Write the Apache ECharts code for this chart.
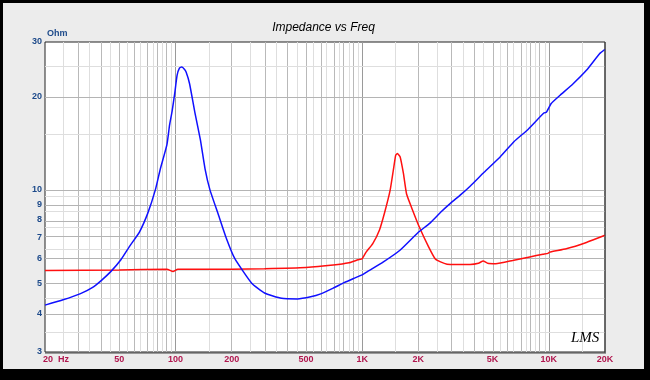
<!DOCTYPE html>
<html>
<head>
<meta charset="utf-8">
<script src="https://cdn.jsdelivr.net/npm/echarts@6/dist/echarts.min.js"></script>
<style>
html,body{margin:0;padding:0;background:#000;width:650px;height:380px;overflow:hidden;}
#c{position:absolute;left:3px;top:3px;width:641px;height:366px;}
</style>
</head>
<body>
<div id="c"></div>
<script>
// ---- data ----
var freqBlue = [20, 25, 31, 36, 40, 45, 51, 57, 64, 71, 78, 83, 90, 93, 96, 99, 102, 105, 108, 111, 114, 119, 127, 136, 144, 153, 170, 187, 208, 256, 300, 370, 450, 530, 600, 700, 800, 900, 1000, 1050, 1300, 1600, 2000, 2300, 2650, 3000, 3340, 3800, 4500, 5500, 6500, 7760, 9400, 9700, 10300, 11500, 13500, 15900, 18700, 20000];
var impBlue  = [4.25, 4.42, 4.63, 4.85, 5.1, 5.45, 5.95, 6.6, 7.3, 8.4, 10.0, 11.7, 14.0, 16.2, 18.0, 20.4, 23.4, 24.7, 24.9, 24.6, 24.0, 22.0, 17.8, 14.5, 11.7, 10.0, 8.3, 7.0, 6.0, 5.0, 4.65, 4.47, 4.45, 4.52, 4.62, 4.82, 5.02, 5.18, 5.32, 5.42, 5.86, 6.4, 7.3, 7.8, 8.5, 9.1, 9.6, 10.3, 11.4, 12.8, 14.3, 15.7, 17.7, 17.8, 19.0, 20.2, 22.0, 24.3, 27.5, 28.4];

var freqRed = [20, 50, 90, 97, 103, 200, 300, 500, 700, 850, 950, 1000, 1050, 1140, 1237, 1322, 1412, 1470, 1513, 1545, 1597, 1664, 1730, 1850, 2030, 2270, 2460, 2630, 2850, 3220, 3790, 4200, 4450, 4700, 5200, 6400, 7900, 9300, 9900, 10100, 12400, 15900, 20000];
var impRed  = [5.5, 5.52, 5.55, 5.45, 5.55, 5.55, 5.57, 5.62, 5.72, 5.82, 5.95, 6.0, 6.3, 6.71, 7.41, 8.49, 9.96, 11.6, 12.95, 13.1, 12.8, 11.3, 9.7, 8.7, 7.56, 6.55, 6.0, 5.86, 5.76, 5.75, 5.75, 5.8, 5.9, 5.8, 5.78, 5.92, 6.08, 6.2, 6.24, 6.3, 6.46, 6.77, 7.14];

var xTicks = [20, 50, 100, 200, 500, 1000, 2000, 5000, 10000, 20000];
var xTickLabels = ['20  Hz', '50', '100', '200', '500', '1K', '2K', '5K', '10K', '20K'];
var yTicks = [3, 4, 5, 6, 7, 8, 9, 10, 20, 30];
var yTickLabels = ['3', '4', '5', '6', '7', '8', '9', '10', '20', '30'];

var titleText = 'Impedance vs Freq';
var yUnit = 'Ohm';

// ---- build ----
var L = Math.log10;
function pairs(f, z) { return f.map(function (v, i) { return [L(v), L(z[i])]; }); }

var xMin = L(20), xMax = L(20000), yMin = L(3), yMax = L(30);

function nearestIdx(arr, v) {
  var best = 0, bd = Infinity;
  arr.forEach(function (a, i) { var d = Math.abs(L(a) - v); if (d < bd) { bd = d; best = i; } });
  return best;
}

// grid lines (values, through axes)
var gridLines = [];
function inX(v) { return v >= 20 - 1e-9 && v <= 20000 + 1e-9; }
for (var n = 1; n <= 4; n++) {
  var dec = Math.pow(10, n);
  for (var k = 1; k <= 9.5; k += 0.5) {
    var v = k * dec;
    if (!inX(v) || v === 20 || v === 20000) continue;
    var col = (k === 1) ? '#9a9a9a' : (k % 1 === 0 ? '#b9b9b9' : '#dedede');
    gridLines.push({ xAxis: L(v), lineStyle: { color: col, width: 1, type: 'solid' } });
  }
}
var yMinor = [3.5, 4.5, 5.5, 6.5, 7.5, 8.5, 9.5, 15, 25];
var yMajor = [4, 5, 6, 7, 8, 9, 10, 20];
yMinor.forEach(function (v) { gridLines.push({ yAxis: L(v), lineStyle: { color: '#dedede', width: 1, type: 'solid' } }); });
yMajor.forEach(function (v) { gridLines.push({ yAxis: L(v), lineStyle: { color: '#b4b4b4', width: 1, type: 'solid' } }); });

var chart = echarts.init(document.getElementById('c'), null, { renderer: 'canvas' });
chart.setOption({
  animation: false,
  backgroundColor: '#ececec',
  title: {
    text: titleText, left: 'center', top: 14,
    textStyle: { fontFamily: 'Liberation Sans, Arial, sans-serif', fontSize: 12, fontStyle: 'italic', fontWeight: 'normal', color: '#000' }
  },
  grid: {
    left: 42, top: 39, width: 560, height: 310,
    show: true, backgroundColor: '#ffffff', borderColor: '#222', borderWidth: 1
  },
  xAxis: {
    type: 'value', min: xMin, max: xMax,
    splitLine: { show: false },
    axisLine: { show: false }, axisTick: { show: false },
    axisLabel: {
      customValues: xTicks.map(L),
      margin: 3,
      fontSize: 9, fontWeight: 'bold', color: '#b0164e',
      fontFamily: 'Liberation Sans, Arial, sans-serif',
      formatter: function (v) {
        var i = nearestIdx(xTicks, v);
        if (i === 0) return '{a|' + xTickLabels[0] + '}';
        return xTickLabels[i];
      },
      rich: { a: { fontSize: 9, fontWeight: 'bold', color: '#b0164e', fontFamily: 'Liberation Sans, Arial, sans-serif', padding: [0, 0, 0, 22] } }
    }
  },
  yAxis: {
    type: 'value', min: yMin, max: yMax,
    name: yUnit, nameLocation: 'end', nameGap: -3,
    nameTextStyle: { align: 'left', fontSize: 9, fontWeight: 'bold', color: '#1d4a8a', fontFamily: 'Liberation Sans, Arial, sans-serif', padding: [0, 0, 0, 2] },
    splitLine: { show: false },
    axisLine: { show: false }, axisTick: { show: false },
    axisLabel: {
      customValues: yTicks.map(L),
      margin: 3,
      fontSize: 9, fontWeight: 'bold', color: '#1d4a8a',
      fontFamily: 'Liberation Sans, Arial, sans-serif',
      formatter: function (v) { return yTickLabels[nearestIdx(yTicks, v)]; }
    }
  },
  graphic: [
    { type: 'rect', z: 50, silent: true, shape: { x: 601.5, y: 39, width: 1, height: 311 }, style: { fill: '#444' } },
    { type: 'rect', z: 50, silent: true, shape: { x: 42, y: 349.5, width: 561, height: 1 }, style: { fill: '#444' } },
    { type: 'text', left: 568, top: 328, z: 100,
      style: { text: 'LMS', font: 'italic 15px "Liberation Serif", serif', fill: '#000' } }
  ],
  series: [
    { type: 'line', z: 1, silent: true, symbol: 'none', data: [[xMin, yMin]], lineStyle: { opacity: 0 },
      markLine: { z: 1, silent: true, symbol: ['none', 'none'], label: { show: false }, animation: false, data: gridLines } },
    { type: 'line', z: 10, name: 'red', data: pairs(freqRed, impRed), symbol: 'none', smooth: 0.15,
      lineStyle: { color: '#ff1010', width: 1.5 } },
    { type: 'line', z: 11, name: 'blue', data: pairs(freqBlue, impBlue), symbol: 'none', smooth: 0.15,
      lineStyle: { color: '#1010ff', width: 1.5 } }
  ]
});
</script>
</body>
</html>
